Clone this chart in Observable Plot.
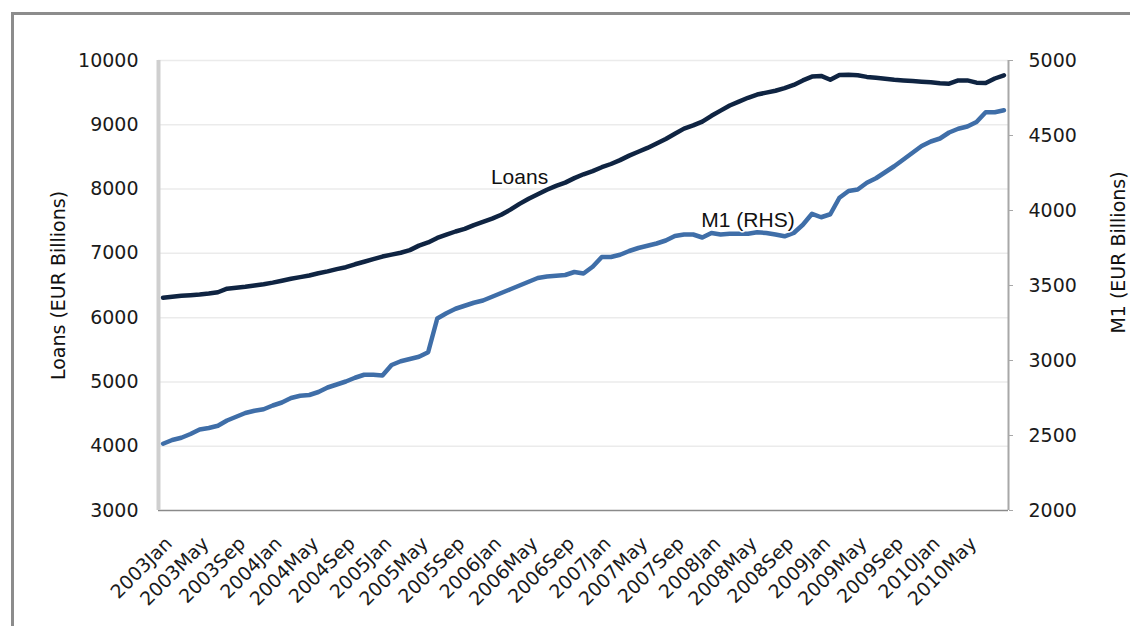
<!DOCTYPE html>
<html><head><meta charset="utf-8">
<script src="https://cdn.jsdelivr.net/npm/d3@7"></script>
<script src="https://cdn.jsdelivr.net/npm/@observablehq/plot@0.6"></script>
<style>
html,body{margin:0;padding:0;background:#fff;}
#wrap{position:relative;width:1130px;height:626px;overflow:hidden;background:#fff;}
#frame{position:absolute;left:11px;top:12px;width:1200px;height:700px;border-left:3px solid #8c8c8c;border-top:3px solid #8c8c8c;}
#chart{position:absolute;left:0;top:0;}
</style></head><body>
<div id="wrap"><div id="frame"></div><div id="chart"></div></div>
<script>
const years = [2003, 2004, 2005, 2006, 2007, 2008, 2009, 2010];
const monthNames = ["Jan","Feb","Mar","Apr","May","Jun","Jul","Aug","Sep","Oct","Nov","Dec"];
const tickLabels = ["2003Jan","2003May","2003Sep","2004Jan","2004May","2004Sep","2005Jan","2005May","2005Sep","2006Jan","2006May","2006Sep","2007Jan","2007May","2007Sep","2008Jan","2008May","2008Sep","2009Jan","2009May","2009Sep","2010Jan","2010May"];
const leftTicks = [3000, 4000, 5000, 6000, 7000, 8000, 9000, 10000];
const rightTicks = [2000, 2500, 3000, 3500, 4000, 4500, 5000];

// Loans (EUR billions), monthly 2003Jan..2010Sep
const loans = [6310,6325,6340,6350,6360,6375,6395,6450,6465,6480,6500,6520,
  6545,6575,6605,6630,6655,6690,6720,6755,6785,6830,6870,6910,
  6950,6980,7010,7050,7120,7170,7240,7290,7340,7380,7440,7490,
  7540,7600,7680,7770,7850,7920,7990,8050,8100,8170,8230,8280,
  8340,8390,8450,8520,8580,8640,8710,8780,8860,8940,8990,9050,
  9140,9220,9300,9360,9420,9470,9500,9530,9570,9620,9690,9750,
  9760,9700,9775,9780,9770,9745,9730,9715,9700,9690,9680,9670,
  9660,9645,9640,9690,9690,9655,9650,9720,9770];
// M1 (EUR billions, RHS), monthly 2003Jan..2010Sep
const m1 = [2445,2470,2485,2510,2540,2550,2565,2600,2625,2650,2665,2675,
  2700,2720,2750,2765,2770,2790,2820,2840,2860,2885,2905,2905,
  2900,2970,2995,3010,3025,3055,3280,3315,3345,3365,3385,3400,
  3425,3450,3475,3500,3525,3550,3560,3565,3570,3590,3580,3625,
  3690,3690,3705,3730,3750,3765,3780,3800,3830,3840,3840,3820,
  3850,3840,3845,3845,3845,3855,3850,3840,3828,3850,3905,3978,
  3955,3975,4085,4130,4140,4185,4215,4255,4295,4340,4385,4430,
  4460,4480,4520,4545,4560,4590,4655,4655,4668];

const annLabels = ["Loans", "M1 (RHS)"];
const annMonths = ["2006Apr", "2008May"];
const annValues = [8180, 3933];

const monthLabels = [];
for (const y of years) for (const m of monthNames) monthLabels.push(y + m);
const toLeft = v => 3000 + (v - 2000) * (7000 / 3000);
const fromLeft = v => 2000 + (v - 3000) * (3000 / 7000);
const loansRows = loans.map((v, i) => ({i, v}));
const m1Rows = m1.map((v, i) => ({i, v}));
const tickIdx = tickLabels.map(l => monthLabels.indexOf(l));
const n = loans.length;

const chart = Plot.plot({
  width: 1130, height: 626,
  marginLeft: 158, marginRight: 122, marginTop: 60, marginBottom: 116,
  style: {fontFamily: "DejaVu Sans", fontSize: "19px", color: "#1a1a1a", background: "transparent", overflow: "visible"},
  x: {domain: [-0.5, n - 0.5], axis: null},
  y: {domain: [3000, 10000], axis: null},
  marks: [
    Plot.ruleY(leftTicks.slice(1), {stroke: "#ebebeb", strokeWidth: 1.5}),
    Plot.ruleY([3000], {stroke: "#8a8a8a", strokeWidth: 1.5}),
    Plot.ruleX([-0.5], {stroke: "#cfcfcf", strokeWidth: 4}),
    Plot.ruleX([n - 0.5], {stroke: "#a8a8a8", strokeWidth: 2}),
    Plot.axisY({anchor: "left", ticks: leftTicks, tickFormat: d => String(d), tickSize: 0, tickPadding: 20, label: null}),
    Plot.axisY({anchor: "right", ticks: rightTicks.map(toLeft), tickFormat: v => String(Math.round(fromLeft(v))), tickSize: 4, tickPadding: 16, stroke: "#a8a8a8", label: null}),
    Plot.axisX({ticks: tickIdx, tickFormat: i => monthLabels[i], tickRotate: -45, tickSize: 0, tickPadding: 30, dx: 6, label: null}),
    Plot.line(loansRows, {x: "i", y: "v", stroke: "#0f2442", strokeWidth: 4.5}),
    Plot.line(m1Rows, {x: "i", y: d => toLeft(d.v), stroke: "#3f6ea8", strokeWidth: 4.5}),
    Plot.text([0], {x: () => monthLabels.indexOf(annMonths[0]), y: () => annValues[0], text: () => annLabels[0], fontFamily: "Liberation Sans", fontSize: 21, fill: "#111"}),
    Plot.text([0], {x: () => monthLabels.indexOf(annMonths[1]), y: () => toLeft(annValues[1]), text: () => annLabels[1], fontFamily: "Liberation Sans", fontSize: 21, fill: "#111", stroke: "white", strokeWidth: 3}),
    Plot.text(["Loans (EUR Billions)"], {frameAnchor: "left", textAnchor: "middle", text: d => d, rotate: -90, dx: -100, fontSize: 19, fill: "#111"}),
    Plot.text(["M1 (EUR Billions)"], {frameAnchor: "right", textAnchor: "middle", text: d => d, rotate: -90, dx: 110, dy: -33, fontSize: 19, fill: "#111"})
  ]
});
document.getElementById("chart").appendChild(chart);
</script>
</body></html>
